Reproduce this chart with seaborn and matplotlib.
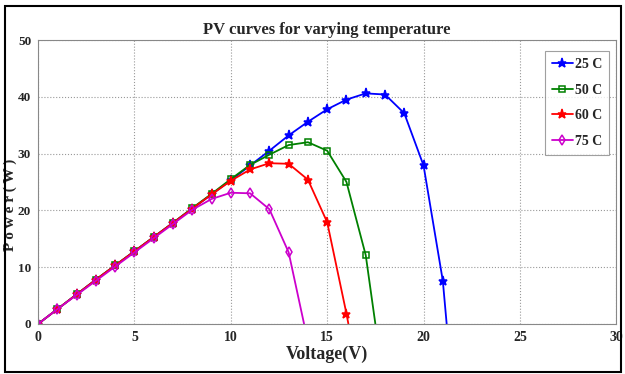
import matplotlib
matplotlib.use("Agg")
import matplotlib.pyplot as plt
import seaborn as sns
import numpy as np
import pandas as pd
from matplotlib.patches import Rectangle

sns.set_style("white")
plt.rcParams['font.family'] = ['Liberation Serif', 'DejaVu Serif']

title = "PV curves for varying temperature"
xlabel = "Voltage(V)"
ylabel = "P o w e r ( W )"

v25 = [0, 1, 2, 3, 4, 5, 6, 7, 8, 9, 10, 11, 12, 13, 14, 15, 16, 17, 18, 19, 20, 21, 21.2]
p25 = [0, 2.6, 5.2, 7.8, 10.3, 12.8, 15.3, 17.8, 20.3, 22.8, 25.3, 27.9, 30.5, 33.2, 35.6, 37.8, 39.5, 40.6, 40.4, 37.1, 27.9, 7.6, 0]

v50 = [0, 1, 2, 3, 4, 5, 6, 7, 8, 9, 10, 11, 12, 13, 14, 15, 16, 17, 17.5]
p50 = [0, 2.6, 5.2, 7.8, 10.3, 12.8, 15.3, 17.8, 20.4, 22.9, 25.5, 28.0, 29.8, 31.5, 32.0, 30.5, 25.0, 12.1, 0]

v60 = [0, 1, 2, 3, 4, 5, 6, 7, 8, 9, 10, 11, 12, 13, 14, 15, 16, 16.1]
p60 = [0, 2.6, 5.2, 7.8, 10.3, 12.8, 15.3, 17.8, 20.3, 22.8, 25.2, 27.2, 28.3, 28.2, 25.4, 17.9, 1.8, 0]

v75 = [0, 1, 2, 3, 4, 5, 6, 7, 8, 9, 10, 11, 12, 13, 13.8]
p75 = [0, 2.6, 5.1, 7.6, 10.1, 12.6, 15.1, 17.6, 20.1, 22.0, 23.1, 23.0, 20.2, 12.6, 0]

labels = ["25 C", "50 C", "60 C", "75 C"]
xticks = [0, 5, 10, 15, 20, 25, 30]
yticks = [0, 10, 20, 30, 40, 50]

series = [
    (v25, p25, labels[0], "#0000ff", "*", "full"),
    (v50, p50, labels[1], "#008000", "s", "none"),
    (v60, p60, labels[2], "#ff0000", "*", "full"),
    (v75, p75, labels[3], "#cc00cc", "d", "none"),
]

fig = plt.figure(figsize=(6.25, 3.74), dpi=100)
ax = fig.add_axes([0.061, 0.134, 0.925, 0.759])

for v, p, lab, col, mk, fs in series:
    df = pd.DataFrame({"V": v, "P": p})
    n = len(v)
    sns.lineplot(data=df, x="V", y="P", ax=ax, color=col, marker=mk,
                 fillstyle=fs, markersize=5 if mk != "*" else 6.5,
                 markeredgecolor=col, markeredgewidth=1.1,
                 markevery=list(range(n - 1)), linewidth=1.3, label=lab,
                 estimator=None, sort=False)

ax.set_xlim(0, 30)
ax.set_ylim(0, 50)
ax.set_xticks(xticks)
ax.set_yticks(yticks)
ax.grid(True, linestyle=":", color="#999999", linewidth=0.8)
for s in ax.spines.values():
    s.set_color("#888888")
    s.set_linewidth(0.8)
ax.tick_params(axis="x", length=3, color="#888888", labelsize=10, pad=2)
ax.tick_params(axis="y", length=3, color="#888888", labelsize=9.5, pad=2)
for t in ax.get_xticklabels() + ax.get_yticklabels():
    t.set_fontweight("bold")

ax.set_title(title, fontsize=12, fontweight="bold", pad=4)
ax.set_xlabel(xlabel, fontsize=13, fontweight="bold", labelpad=1)
ax.set_ylabel(ylabel, fontsize=11, fontweight="bold")
ax.yaxis.set_label_coords(-0.036, 0.42)

leg = ax.legend(loc="upper right", frameon=True, fancybox=False,
                prop={"weight": "bold", "size": 10}, handlelength=1.5,
                handletextpad=0.15, borderpad=0.5, labelspacing=0.9,
                borderaxespad=0.3, bbox_to_anchor=(0.995, 0.975))
leg.get_frame().set_edgecolor("#888888")
leg.get_frame().set_linewidth(0.8)

fig.patches.append(Rectangle((5 / 625, 2 / 374), 616 / 625, 366 / 374,
                             transform=fig.transFigure, fill=False,
                             edgecolor="black", linewidth=1.5))

fig.savefig("out.png", dpi=100)
